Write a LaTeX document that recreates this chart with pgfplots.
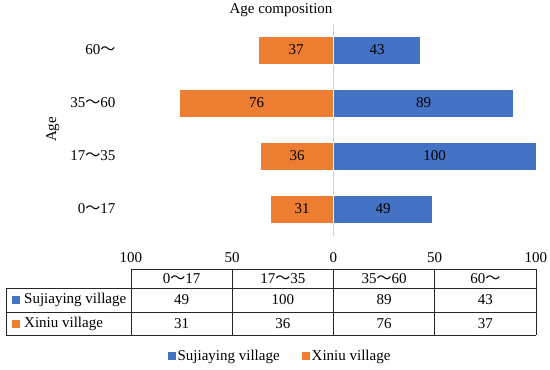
\documentclass[border=0pt]{standalone}
\usepackage{fontspec}
\setmainfont{Liberation Serif}
\newfontfamily\cjk{Noto Sans CJK SC}
\usepackage{pgfplots}
\pgfplotsset{compat=1.18}
\definecolor{cblue}{HTML}{4472C4}
\definecolor{corange}{HTML}{ED7D31}
\definecolor{zline}{HTML}{D0D0D0}
\newcommand{\tl}{{\cjk ～}}
\begin{document}
\begin{tikzpicture}[font=\fontsize{15}{18}\selectfont]
\begin{axis}[
  name=ax, at={(0,0)}, anchor=origin,
  scale only axis, width=405pt, height=212pt,
  xmin=-100, xmax=100, ymin=-0.5, ymax=3.5,
  xtick={-100,-50,0,50,100}, xticklabels={100,50,0,50,100},
  ytick={0,1,2,3}, yticklabels={0\tl17,17\tl35,35\tl60,60\tl},
  tick label style={font=\fontsize{15}{18}\selectfont},
  label style={font=\fontsize{15}{18}\selectfont},
  axis line style={draw=none}, major tick length=0pt,
  /pgf/number format/assume math mode=true,
  xticklabel style={anchor=center, yshift=-22.5pt},
  yticklabel style={anchor=east, xshift=-12pt},
  ylabel={Age}, ylabel style={at={(axis description cs:-0.193,0.5)}, anchor=center},
  xmajorgrids=false,
  extra x ticks={0}, extra x tick labels={},
  extra x tick style={grid=major, major grid style={color=zline, line width=0.9pt}},
  clip=false,
  legend columns=2,
  legend style={at={(axis description cs:0.368,-0.568)}, anchor=center, draw=none, fill=none,
    /tikz/every even column/.append style={column sep=20pt}, font=\fontsize{15}{18}\selectfont},
  legend image code/.code={\fill[#1,draw=none] (0pt,-4pt) rectangle (8pt,4pt);},
]
\addplot[xbar, bar shift=0pt, bar width=28pt, fill=cblue, draw=white, line width=0.6pt,
  point meta=explicit, nodes near coords,
  visualization depends on={x \as \rawx},
  every node near coord/.append style={anchor=center, text=black, font=\fontsize{15}{18}\selectfont, shift={(axis direction cs:{-0.5*\rawx},0)}}]
  coordinates {(49,0) [49] (100,1) [100] (89,2) [89] (43,3) [43]};
\addlegendentry{Sujiaying village}
\addplot[xbar, bar shift=0pt, bar width=28pt, fill=corange, draw=white, line width=0.6pt,
  point meta=explicit, nodes near coords,
  visualization depends on={x \as \rawx},
  every node near coord/.append style={anchor=center, text=black, font=\fontsize{15}{18}\selectfont, shift={(axis direction cs:{-0.5*\rawx},0)}}]
  coordinates {(-31,0) [31] (-36,1) [36] (-76,2) [76] (-37,3) [37]};
\addlegendentry{Xiniu village}
\end{axis}
% title
\node at (-52.5pt,199pt) {Age composition};
% data table
\begin{scope}[line width=0.8pt, draw=black!85]
\draw (-202.5pt,-60pt) -- (202.5pt,-60pt);
\foreach \yy in {-79,-103,-126} \draw (-327.5pt,\yy pt) -- (202.5pt,\yy pt);
\draw (-327.5pt,-79pt) -- (-327.5pt,-126pt);
\foreach \xx in {-202.5,-101.25,0,101.25,202.5} \draw (\xx pt,-60pt) -- (\xx pt,-126pt);
\end{scope}
\node at (-151.9pt,-69.5pt) {0\tl17};
\node at (-50.6pt,-69.5pt) {17\tl35};
\node at (50.6pt,-69.5pt) {35\tl60};
\node at (151.9pt,-69.5pt) {60\tl};
\foreach \xx/\v in {-151.9/49,-50.6/100,50.6/89,151.9/43} \node at (\xx pt,-91pt) {\v};
\foreach \xx/\v in {-151.9/31,-50.6/36,50.6/76,151.9/37} \node at (\xx pt,-114.5pt) {\v};
\fill[cblue] (-321.5pt,-95pt) rectangle (-313.5pt,-87pt);
\fill[corange] (-321.5pt,-118.5pt) rectangle (-313.5pt,-110.5pt);
\node[anchor=west, inner sep=0pt] at (-309.5pt,-91pt) {Sujiaying village};
\node[anchor=west, inner sep=0pt] at (-309.5pt,-114.5pt) {Xiniu village};
\pgfresetboundingbox
\useasboundingbox (-333.5pt,-161pt) rectangle (216.5pt,209pt);
\end{tikzpicture}
\end{document}
